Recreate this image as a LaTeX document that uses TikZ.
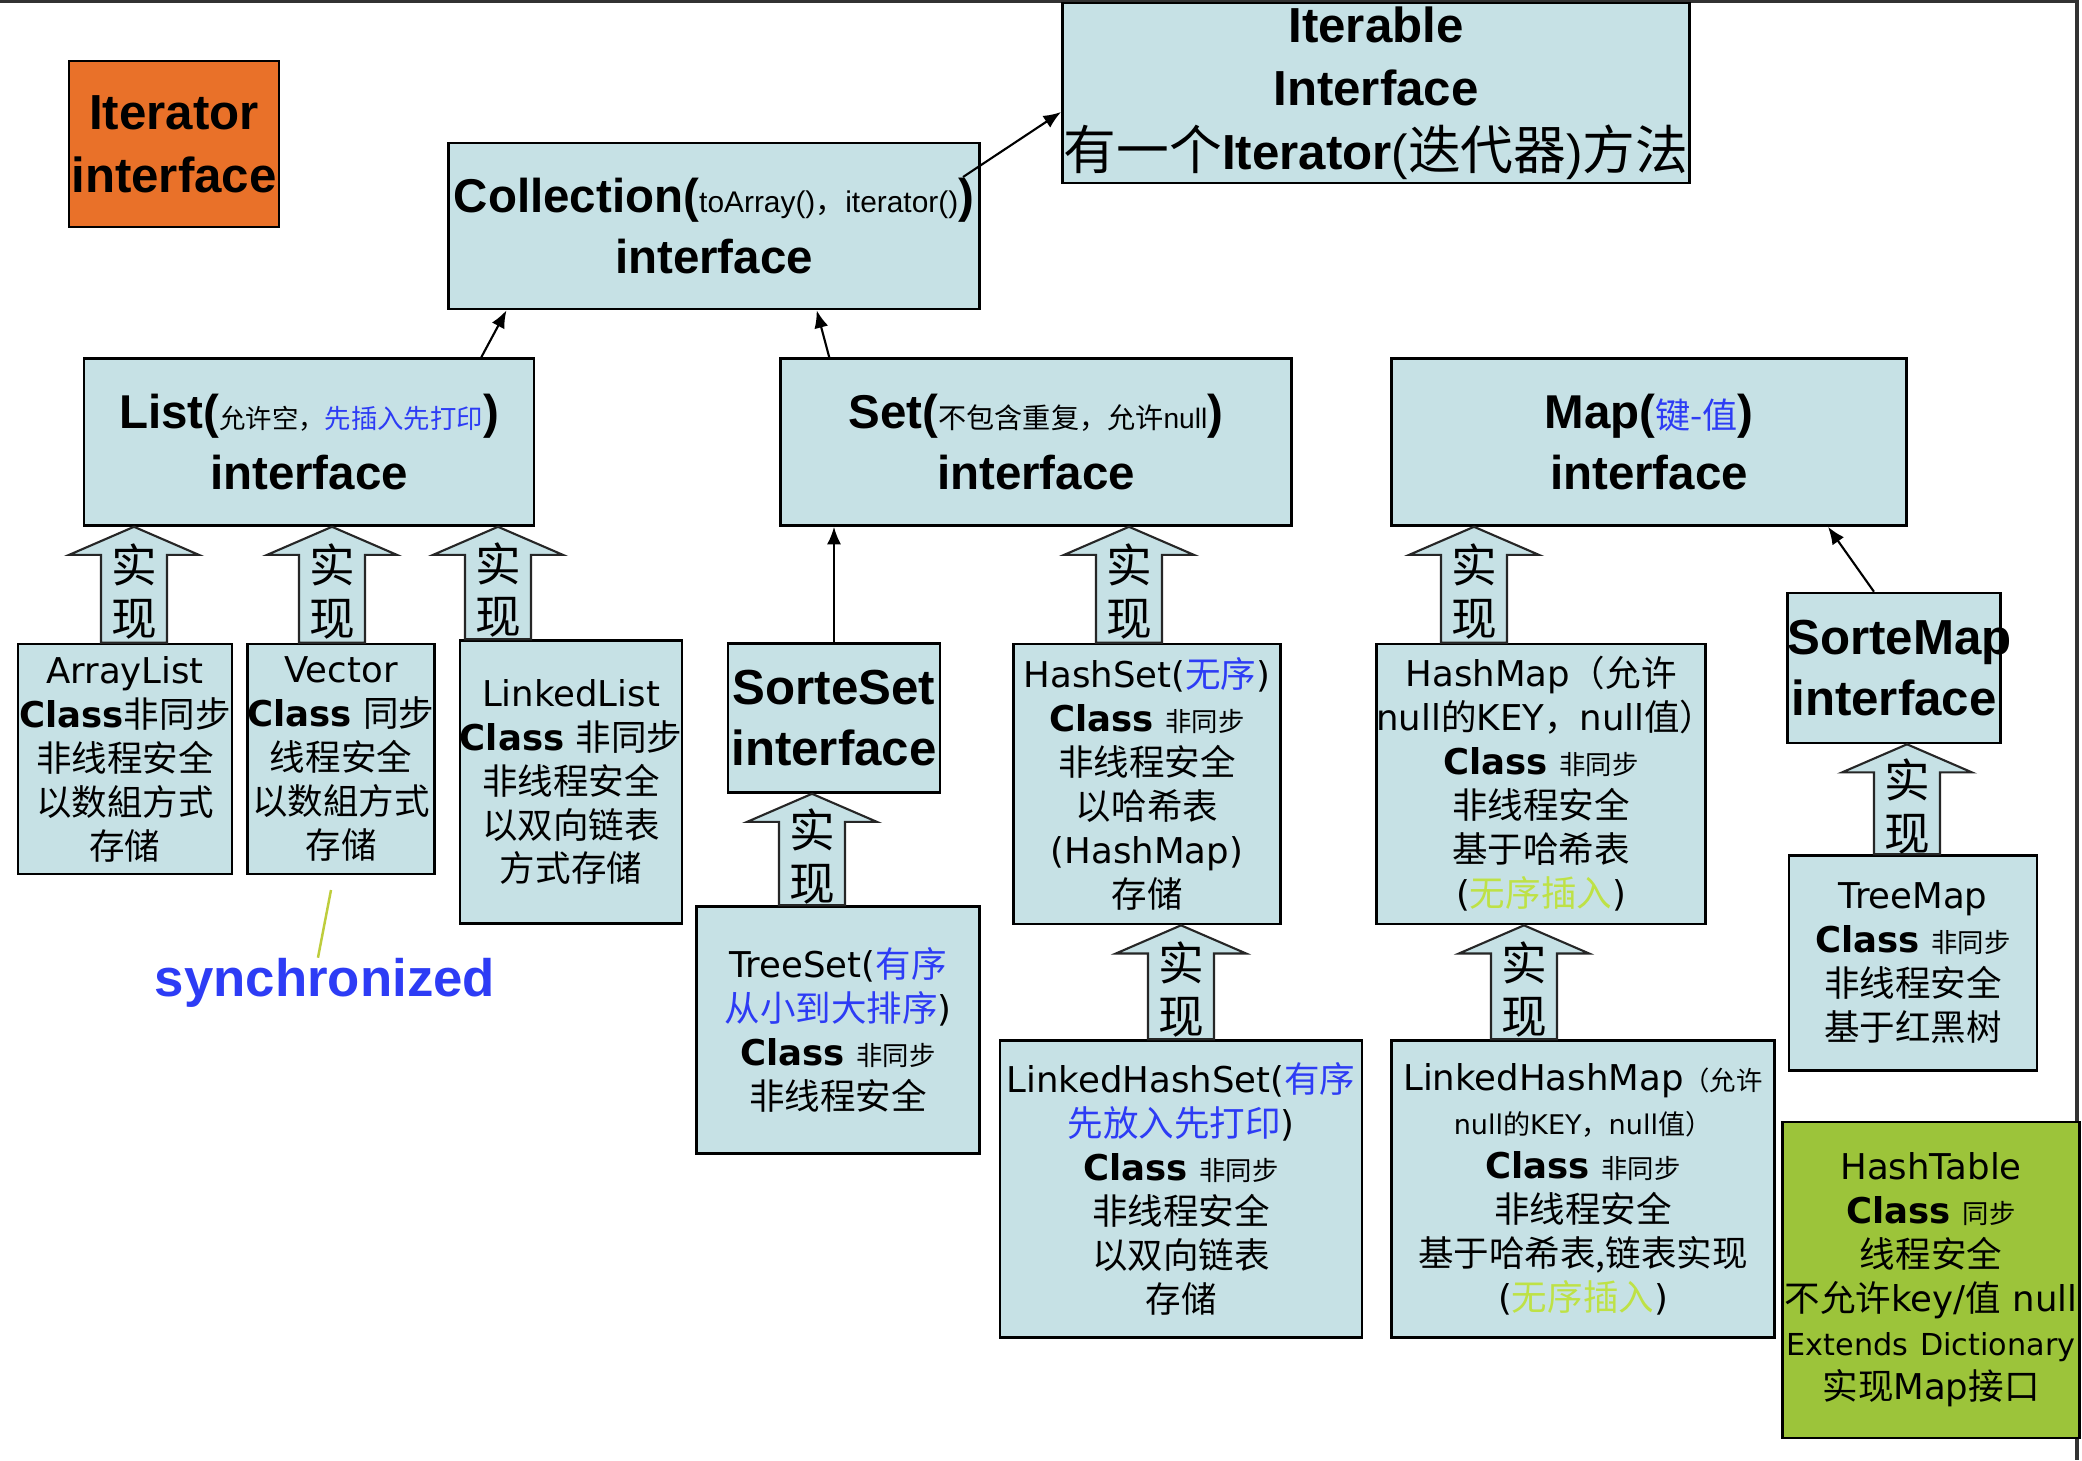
\documentclass[tikz,border=0pt]{standalone}
\usepackage{fontspec}
\setmainfont{Liberation Sans}
\newfontfamily\cjk{Noto Sans CJK SC}
\newfontfamily\verd{DejaVu Sans}
\usetikzlibrary{arrows.meta,calc}

\definecolor{boxblue}{RGB}{198,225,229}
\definecolor{iterorange}{RGB}{233,113,41}
\definecolor{tablegreen}{RGB}{156,196,58}
\definecolor{noteblue}{RGB}{45,60,245}
\definecolor{notegreen}{RGB}{190,225,70}
\definecolor{syncgreen}{RGB}{190,205,60}
\definecolor{framegray}{RGB}{50,50,50}

\newcommand{\zh}[1]{{\cjk\mdseries #1}}
\newcommand{\bluezh}[1]{{\cjk\mdseries\color{noteblue}#1}}
\newcommand{\greenzh}[1]{{\cjk\mdseries\color{notegreen}#1}}
\newcommand{\smallzh}[1]{{\cjk\mdseries\fontsize{7.5}{9}\selectfont #1}}
\newcommand{\bigzh}[1]{{\cjk\mdseries\fontsize{15}{18}\selectfont #1}}
\newcommand{\clsword}{{\bfseries Class}}

\tikzset{
  iface/.style={draw=black, line width=0.7pt, fill=boxblue, align=center, inner sep=0pt,
    font=\bfseries\fontsize{13.5}{17.6}\selectfont},
  cls/.style={draw=black, line width=0.7pt, fill=boxblue, align=center, inner sep=0pt,
    font=\verd\fontsize{10.1}{12.5}\selectfont},
  implarrow/.style={draw=black!85, line width=0.6pt, fill=boxblue},
  impltext/.style={align=center, inner sep=0pt, font=\cjk\fontsize{13}{15}\selectfont},
  link/.style={-{Latex[length=5pt,width=4pt]}, line width=0.6pt},
}

% block arrow: name, x (px), lower node, upper node
\newcommand{\impl}[4]{%
  \path[implarrow] let \p1=(#3.north), \p2=(#4.south) in
    ({(#2-33)*0.01cm},\y1) -- ({(#2-33)*0.01cm},\y2-8pt) -- ({(#2-65)*0.01cm},\y2-8pt)
    -- ({#2*0.01cm},\y2) -- ({(#2+65)*0.01cm},\y2-8pt) -- ({(#2+33)*0.01cm},\y2-8pt)
    -- ({(#2+33)*0.01cm},\y1) -- cycle
    ({#2*0.01cm},{0.5*\y1+0.5*\y2-2pt}) node[impltext] (#1) {实\\现};
}

\begin{document}
\begin{tikzpicture}[x=0.01cm,y=-0.01cm]
\fill[white] (0,0) rectangle (2082,1460);
\useasboundingbox (0,0) rectangle (2082,1460);
\draw[framegray, line width=1.2pt] (0,1) -- (2077,1) -- (2077,1460);

\node[iface, fill=iterorange, minimum width=2.10cm, minimum height=1.66cm,
  font=\bfseries\fontsize{14}{18}\selectfont] (Iterator) at (174,144) {Iterator\\interface};
\node[iface, minimum width=6.27cm, minimum height=1.80cm,
  font=\bfseries\fontsize{14}{18}\selectfont] (Iterable) at (1376,93)
  {Iterable\\Interface\\\bigzh{有一个}Iterator{\mdseries(}\bigzh{迭代器}{\mdseries)}\bigzh{方法}};
\node[iface, minimum width=5.31cm, minimum height=1.66cm] (Collection) at (714,226)
  {Collection({\mdseries\fontsize{8.5}{10}\selectfont toArray()\zh{，}iterator()})\\interface};

\node[iface, minimum width=4.50cm, minimum height=1.67cm] (List) at (309,442)
  {List(\smallzh{允许空，}{\color{noteblue}\smallzh{先插入先打印}})\\interface};
\node[iface, minimum width=5.11cm, minimum height=1.67cm] (Set) at (1036,442)
  {Set({\mdseries\fontsize{8}{10}\selectfont\zh{不包含重复，允许}null})\\interface};
\node[iface, minimum width=5.15cm, minimum height=1.67cm] (Map) at (1649,442)
  {Map({\fontsize{10}{12}\selectfont\bluezh{键-值}})\\interface};

\node[iface, minimum width=2.12cm, minimum height=1.49cm,
  font=\bfseries\fontsize{14}{17.4}\selectfont] (SorteSet) at (834,718) {SorteSet\\interface};
\node[iface, text width=2.13cm, minimum height=1.50cm,
  font=\bfseries\fontsize{14}{17.4}\selectfont] (SorteMap) at (1894,668) {SorteMap\\interface};

\node[cls, minimum width=2.14cm, minimum height=2.30cm] (ArrayList) at (125,759)
  {ArrayList\\\clsword\zh{非同步}\\\zh{非线程安全}\\\zh{以数組方式}\\\zh{存储}};
\node[cls, minimum width=1.82cm, minimum height=2.30cm] (Vector) at (341,759)
  {Vector\\\clsword\ \zh{同步}\\\zh{线程安全}\\\zh{以数組方式}\\\zh{存储}};
\node[cls, minimum width=2.19cm, minimum height=2.83cm] (LinkedList) at (571,782)
  {LinkedList\\\clsword\ \zh{非同步}\\\zh{非线程安全}\\\zh{以双向链表}\\\zh{方式存储}};
\node[cls, minimum width=2.83cm, minimum height=2.47cm] (TreeSet) at (838,1030)
  {TreeSet(\bluezh{有序}\\\bluezh{从小到大排序})\\\clsword\ \smallzh{非同步}\\\zh{非线程安全}};
\node[cls, minimum width=2.67cm, minimum height=2.80cm] (HashSet) at (1147,784)
  {HashSet(\bluezh{无序})\\\clsword\ \smallzh{非同步}\\\zh{非线程安全}\\\zh{以哈希表}\\(HashMap)\\\zh{存储}};
\node[cls, minimum width=3.62cm, minimum height=2.97cm] (LinkedHashSet) at (1181,1189)
  {LinkedHashSet(\bluezh{有序}\\\bluezh{先放入先打印})\\\clsword\ \smallzh{非同步}\\\zh{非线程安全}\\\zh{以双向链表}\\\zh{存储}};
\node[cls, text width=3.29cm, minimum height=2.80cm] (HashMap) at (1541,784)
  {HashMap\zh{（允许}\\null\zh{的}KEY\zh{，}null\zh{值）}\\\clsword\ \smallzh{非同步}\\\zh{非线程安全}\\\zh{基于哈希表}\\(\greenzh{无序插入})};
\node[cls, minimum width=3.83cm, minimum height=2.97cm] (LinkedHashMap) at (1583,1189)
  {LinkedHashMap\smallzh{（允许}\\{\fontsize{7.7}{9}\selectfont null\zh{的}KEY\zh{，}null\zh{值）}}\\\clsword\ \smallzh{非同步}\\\zh{非线程安全}\\\zh{基于哈希表,链表实现}\\(\greenzh{无序插入})};
\node[cls, minimum width=2.48cm, minimum height=2.15cm] (TreeMap) at (1913,963)
  {TreeMap\\\clsword\ \smallzh{非同步}\\\zh{非线程安全}\\\zh{基于红黑树}};
\node[cls, fill=tablegreen, text width=2.97cm, minimum height=3.16cm] (HashTable) at (1931,1280)
  {HashTable\\\clsword\ \smallzh{同步}\\\zh{线程安全}\\\zh{不允许}key/\zh{值} null\\{\fontsize{8.6}{12.5}\selectfont Extends Dictionary}\\\zh{实现}Map\zh{接口}};

\node[inner sep=0pt, text=noteblue, font=\bfseries\fontsize{15}{18}\selectfont] (sync) at (325,983) {synchronized};
\coordinate (synctop) at (331,890);
\draw[syncgreen, line width=0.7pt] (synctop) -- ([xshift=-2pt]sync.north);

\impl{implA}{134}{ArrayList}{List}
\impl{implV}{332}{Vector}{List}
\impl{implL}{498}{LinkedList}{List}
\impl{implTS}{812}{TreeSet}{SorteSet}
\impl{implHS}{1129}{HashSet}{Set}
\impl{implLHS}{1181}{LinkedHashSet}{HashSet}
\impl{implHM}{1474}{HashMap}{Map}
\impl{implLHM}{1524}{LinkedHashMap}{HashMap}
\impl{implTM}{1907}{TreeMap}{SorteMap}

\coordinate (colltop) at (963,177);
\draw[link] (colltop) -- ([yshift=-5.4pt]Iterable.west);
\draw[link] ([xshift=49pt]List.north) -- ([xshift=-59pt]Collection.south);
\draw[link] ([xshift=-58.8pt]Set.north) -- ([xshift=29.2pt]Collection.south);
\draw[link] (SorteSet.north) -- (SorteSet.north |- Set.south);
\draw[link] ([xshift=-5.7pt]SorteMap.north) -- ([xshift=50.9pt]Map.south);
\end{tikzpicture}
\end{document}
